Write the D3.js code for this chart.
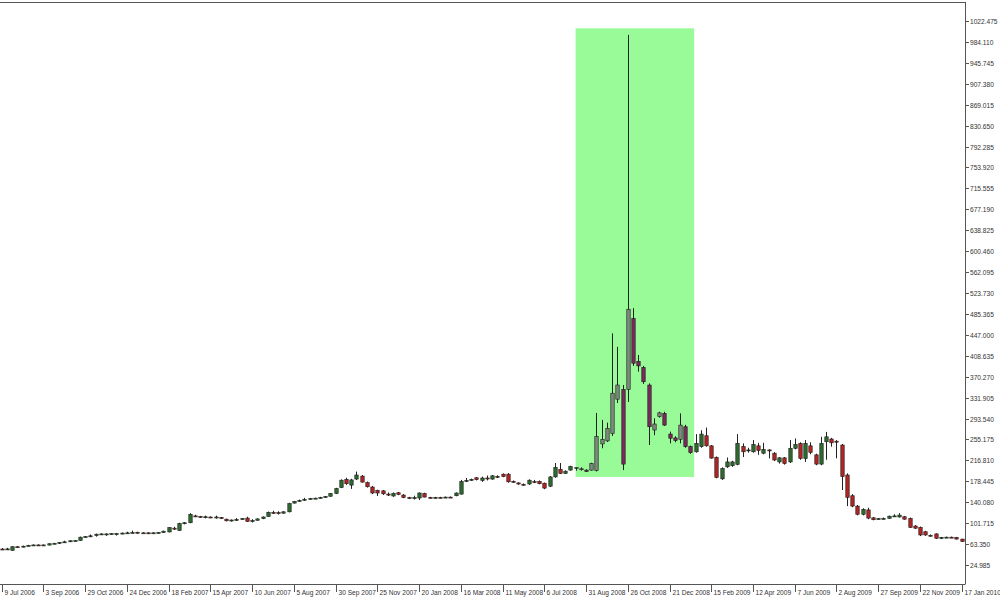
<!DOCTYPE html>
<html>
<head>
<meta charset="utf-8">
<script src="https://cdn.jsdelivr.net/npm/d3@7"></script>
<style>
  html, body { margin: 0; padding: 0; background: #ffffff; }
  svg { display: block; }
  text { font-family: "Liberation Sans", Arial, sans-serif; font-size: 6.6px; fill: #333; }
</style>
</head>
<body>
<svg id="chart" width="1000" height="600"></svg>
<script>
// ---- Data (weekly candles, first week 9 Jul 2006) ----
const firstWeek = "2006-07-09";
const open = [
54.3,54,52,58.5,58.3,60,61,61.8,61.3,61.5,64,65,66.8,67.5,69.5,70,76,77.5,79,81.5,
81,82,82,82.5,83.5,84,85,83.5,84,83.5,84,84.5,85.5,92.5,88.5,101,102.5,115,114,113,
113,112.5,112,109,106,107.5,109,111,105.5,107,110,114,121.5,121,120,122.5,138.5,142,144,146,
147,147.5,149,151,156,167,182,171.5,182.6,188,176,168,162,161,155,151.5,157.5,153.3,148.5,148,
147.8,156,149,148.3,149,148.5,149.5,152,155,179,181,185,180,184.5,182.5,187.5,191.5,191.5,178.5,175.5,
173,173.5,178,178.5,175,169.5,186.5,200.5,193,199,203,201,199,199,198,247,252.5,266,329,347,
347,477,398,387,355,272.5,297,303,265,258,255.5,278.5,242,232.5,242,262,243.5,222.5,183,205,
207,209.5,242,235,232.5,243.5,230,236,230,214,221.5,214,239,248,220,243.5,227,210,251,256,
252,245,190,152,133,118,126,111.5,109,110,110.5,114.5,113,113.5,110.5,96.5,94,86,79.5,82,
74,75.5,76,75.7,72.5
];
const high = [
56,56.5,59.5,59.5,60.5,62,62.5,62.8,62.5,64.5,65.5,67,69.5,70,70.5,77,78,81,82.5,83,
83,83.5,83.5,84.5,86,88,86,85,85,85,85.5,88,94.5,95,102.5,103.5,120,117,115,115.5,
114,115.5,113,110,108.5,111,111,113.5,109,110.5,114,123,124.5,123.5,123.5,139,142.5,145,148,148,
148.5,150,151.5,157,166.5,182,185,183,196.3,190,178,170,163,162.5,158,158,159,155,150,152,
158,157.5,150,150,150,150.5,150.5,158,181,184.5,183.5,186,187,189,190,189.5,193,193.5,180,176.5,
174.5,182,181,180,176,188,212,212,198.5,207,204,204,200.5,212.5,303.7,291,286,449.8,425,355,
997,496,410,390,358,294,306,306,269.5,261,303,282,244,265,272,277,245,224,204,222,
216,265,248,240,254,249,249,237,232,223,223,254,257,250,254,250,229,260,269,258,
254,247,193,155,135,129,130,113,111,112,115.5,118,120,115,112,98,95.5,87.5,81,83,
76.5,77,77,76.5,73
];
const low = [
53,52.5,51,57,57.5,59.5,60.5,60.8,60.5,61,63.5,63.5,65.5,67,68.5,69.5,75.5,76,77,80.5,
78.5,81,79,81.5,82.5,83.5,82.5,83,82.5,83,83,84,85,89.5,87.5,99.5,101.5,113.5,111.5,110.5,
111,110,109.5,105,104.5,106,108,104,103,106.5,109,113.5,118.5,117.5,119,121.5,137.5,141,142.5,145,
146,147,148.5,150.5,155,166,172,164.5,181,176,167,155,151.5,153.5,151.5,150,153,147.5,146.5,145,
144,149,147,147,147.5,147.5,148,151,154,177,179.5,180,177.5,180,181.5,184.5,186,176,175.5,172,
170.5,172,175,173,164,168,185,192,192,198,198,198,195.5,198,196.5,239,250.5,261.5,322,199,
324,390,379.5,357,245,263,295,280,248,250,248,240,229,231,240,242,220,184,181,203,
205,208,223,231,231,227,228,220.5,215.5,211,209,212,237,218,214,228,208,208,218,242,
220.5,162.5,133,131,116,116,109,107,108,108.5,110,113,112,108,93,91,78,78.5,77.5,73,
72.5,74.5,74.5,72,67.5
];
const close = [
53.8,54.5,58.5,58,59.5,61,61.8,61.3,61.8,64,64.8,66.5,67.5,69.5,69.8,76,77,78.5,81.5,82,
82,82.5,82.5,83.5,84,84.5,83.5,84,83.5,84,84.5,87,93.5,92,101,102.5,118,114,113,113.5,
112.5,113,110.5,106,107.5,108.5,110,105,106.5,109.5,113,121.5,121,120.5,122.5,137.5,141.5,143.5,145.5,147,
147.5,149,150.5,156,165,180.5,174,181,190,177,168.5,157,157,155.5,154.8,156.5,154.5,148.5,148,148.5,
157,149.5,148.3,148.8,148.5,149.5,149,157,178,180,182,181.5,184.5,184,188.5,187,187,177.5,177,173.5,
172,180.5,177.5,174,166,186.5,204,193,197,205.5,203.5,201.5,196.5,211,260.5,255.5,275.5,340,355,210,
494,395,390,361,278.5,283.5,304,281.5,257.5,253,281.5,242,231,248,265,243.5,221,185.5,202,214,
214,248,232.5,236,246,235,237,235,217.5,221.5,211,239,246,220.5,248,231.5,210,248,260,249,
251,187,149,133,118,127,111,108,110,110.5,114.5,115,116.5,109,94,92.5,80,80,79,74,
75.5,76,75.8,72.5,68
];
// highlighted zone (time range and price range)
const zoneStart = "2008-08-17";
const zoneEnd = "2009-01-23";
const zonePrices = [186.4, 1009.1];
// axis ticks
const yTicks = [24.985,63.350,101.715,140.080,178.445,216.810,255.175,293.540,331.905,370.270,408.635,447.000,485.365,523.730,562.095,600.460,638.825,677.190,715.555,753.920,792.285,830.650,869.015,907.380,945.745,984.110,1022.475];
const xTickLabels = ["9 Jul 2006","3 Sep 2006","29 Oct 2006","24 Dec 2006","18 Feb 2007","15 Apr 2007","10 Jun 2007","5 Aug 2007","30 Sep 2007","25 Nov 2007","20 Jan 2008","16 Mar 2008","11 May 2008","6 Jul 2008","31 Aug 2008","26 Oct 2008","21 Dec 2008","15 Feb 2009","12 Apr 2009","7 Jun 2009","2 Aug 2009","27 Sep 2009","22 Nov 2009","17 Jan 2010"];

// ---- Layout ----
const W = 1000, H = 600;
const plotRight = 965, plotTop = 2, plotBottom = 584;
const svg = d3.select("#chart");

const parse = d3.utcParse("%Y-%m-%d");
const t0 = parse(firstWeek);
const dates = d3.range(open.length).map(i => d3.utcWeek.offset(t0, i));
const x = d3.scaleUtc().domain([t0, dates[dates.length - 1]]).range([1.7, 961.7]);
const y = d3.scaleLinear().domain([24.985, 1022.475]).range([565, 21]);

const candles = dates.map((d, i) => ({ d, o: open[i], h: high[i], l: low[i], c: close[i] }));

svg.append("rect").attr("x", 0).attr("y", 0).attr("width", W).attr("height", H).attr("fill", "#fff");

// highlighted zone
const zx1 = x(parse(zoneStart)), zx2 = x(parse(zoneEnd));
const zy1 = y(zonePrices[1]), zy2 = y(zonePrices[0]);
svg.append("rect")
  .attr("x", zx1).attr("y", zy1)
  .attr("width", zx2 - zx1).attr("height", zy2 - zy1)
  .attr("fill", "#98fb98");

const inZone = c => x(c.d) >= zx1 && x(c.d) <= zx2;

// candles
const bw = 3.4;
const g = svg.append("g");
candles.forEach(c => {
  const cx = Math.round(x(c.d)) + 0.5;
  const bull = c.c >= c.o;
  const z = inZone(c);
  const fill = z ? (bull ? "#7d8a7d" : "#7b2a5e") : (bull ? "#2e6b2e" : "#b32424");
  g.append("line").attr("x1", cx).attr("x2", cx)
    .attr("y1", y(c.h)).attr("y2", y(c.l))
    .attr("stroke", "#222").attr("stroke-width", 1);
  const top = y(Math.max(c.o, c.c)), bot = y(Math.min(c.o, c.c));
  const hgt = Math.max(bot - top, 1);
  g.append("rect").attr("x", cx - bw / 2).attr("y", top)
    .attr("width", bw).attr("height", hgt)
    .attr("fill", fill).attr("stroke", "#1a1a1a").attr("stroke-width", 0.6);
});

// frame lines
svg.append("line").attr("x1", plotRight + 0.5).attr("x2", plotRight + 0.5)
  .attr("y1", plotTop).attr("y2", plotBottom).attr("stroke", "#555");
svg.append("line").attr("x1", 0).attr("x2", plotRight + 0.5)
  .attr("y1", plotTop + 0.5).attr("y2", plotTop + 0.5).attr("stroke", "#555");
svg.append("line").attr("x1", 0).attr("x2", plotRight + 0.5)
  .attr("y1", plotBottom + 0.5).attr("y2", plotBottom + 0.5).attr("stroke", "#555");

const yAxis = svg.append("g");
yTicks.forEach(v => {
  const yy = Math.round(y(v)) + 0.5;
  yAxis.append("line").attr("x1", plotRight).attr("x2", plotRight + 4)
    .attr("y1", yy).attr("y2", yy).attr("stroke", "#555");
  yAxis.append("text").attr("x", plotRight + 5).attr("y", yy).attr("dy", "0.35em")
    .text(d3.format(".3f")(v));
});

const xAxis = svg.append("g");
xTickLabels.forEach((lab, k) => {
  const d = d3.utcWeek.offset(t0, k * 8);
  const xx = Math.round(x(d)) + 0.5;
  xAxis.append("line").attr("x1", xx).attr("x2", xx)
    .attr("y1", plotBottom).attr("y2", plotBottom + 8).attr("stroke", "#555");
  xAxis.append("text").attr("x", xx + 2).attr("y", plotBottom + 10.5).text(lab);
});
</script>
</body>
</html>
